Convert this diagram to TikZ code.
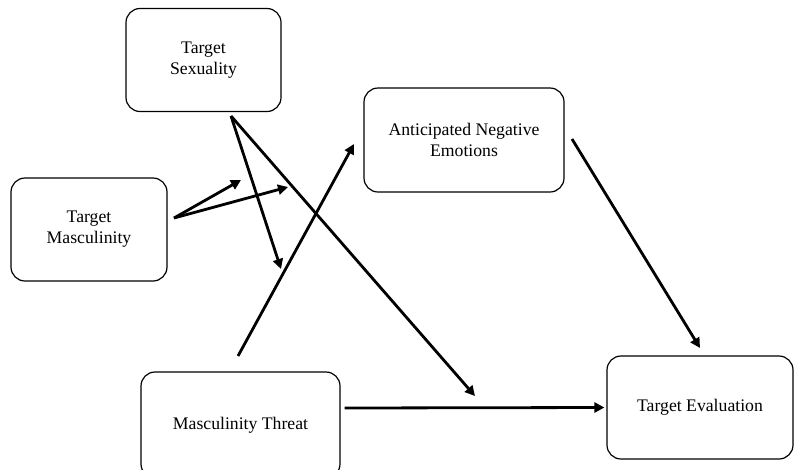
\documentclass[tikz,border=0pt]{standalone}
\usepackage{fontspec}
\setmainfont{Liberation Serif}
\usetikzlibrary{arrows.meta}

\begin{document}
\begin{tikzpicture}[
    x=1pt, y=-1pt,
    var/.style={draw, rounded corners=14pt, line width=1.2pt, align=center,
      inner sep=0pt, font=\fontsize{17.7}{21}\selectfont},
    path/.style={-{Triangle[length=10pt,width=10pt]}, line width=2.8pt}
  ]
    \useasboundingbox (0,0) rectangle (794,469);
    \clip (0,0) rectangle (794,469);

    % variables
    \node[var, minimum width=155pt, minimum height=103pt] (sex) at (203.5,60) {Target\\Sexuality};
    \node[var, minimum width=156pt, minimum height=103pt] (masc) at (89,229.5) {Target\\Masculinity};
    \node[var, minimum width=200pt, minimum height=104pt] (emo) at (464,140) {Anticipated Negative\\Emotions};
    \node[var, minimum width=199pt, minimum height=106pt] (threat) at (240.5,425) {Masculinity Threat};
    \node[var, minimum width=186pt, minimum height=103pt] (eval) at (700,407.5) {Target Evaluation};

    % loose ends of the paths
    \coordinate (mascOut) at (174,218);
    \coordinate (sexOut) at (231,116);
    \coordinate (threatOut) at (238,356);
    \coordinate (emoIn) at (354,144);
    \coordinate (emoOut) at (572,139);
    \coordinate (evalIn) at (700,348);
    \coordinate (modA) at (241,180);
    \coordinate (modB) at (288,187);
    \coordinate (modC) at (281,269);
    \coordinate (modD) at (475,396);

    \draw[path] (mascOut) -- (modA);
    \draw[path] (mascOut) -- (modB);
    \draw[path] (sexOut) -- (modC);
    \draw[path] (sexOut) -- (modD);
    \draw[path] (threatOut) -- (emoIn);
    \draw[path] (emoOut) -- (evalIn);
    \draw[path] ([xshift=4pt,yshift=17pt]threat.east) -- ([xshift=-2pt]eval.west);
  \end{tikzpicture}
\end{document}
